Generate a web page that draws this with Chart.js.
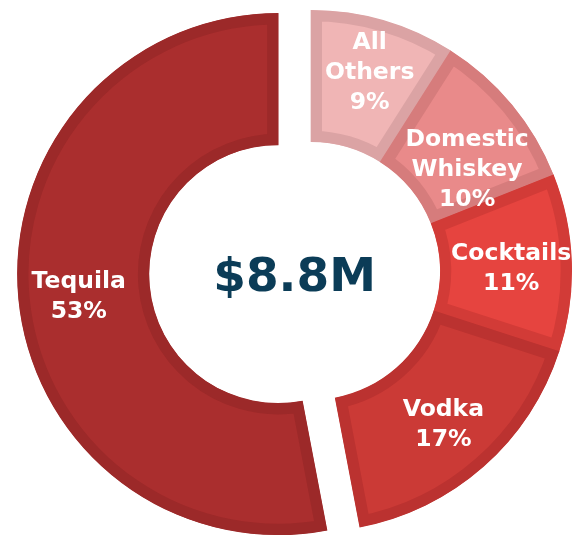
<!DOCTYPE html>
<html>
<head>
<meta charset="utf-8">
<script src="https://cdn.jsdelivr.net/npm/chart.js@4.4.0/dist/chart.umd.min.js"></script>
<style>
  html, body { margin: 0; padding: 0; background: #ffffff; }
  #wrap { width: 573px; height: 540px; position: relative; }
</style>
</head>
<body>
<div id="wrap"><canvas id="mix" width="573" height="540"></canvas></div>
<script>
// Sales mix by category (share of total, %)
const categories = ['All Others', 'Domestic Whiskey', 'Cocktails', 'Vodka', 'Tequila'];
const shares = [9, 10, 11, 17, 53];
const totalLabel = '$8.8M';

const fillColors = ['#f0b5b5', '#e98a8a', '#e6443f', '#cb3a36', '#aa2e2e'];
const edgeColors = ['#dba3a4', '#d67c7c', '#d23b37', '#bb3230', '#9c2929'];

// Tequila is pulled out of the ring
const explodedIndex = 4;
const explodeDistance = 33;

const explodeSlice = {
  id: 'explodeSlice',
  afterDatasetUpdate(chart, args) {
    const arc = chart.getDatasetMeta(args.index).data[explodedIndex];
    if (!arc) return;
    const mid = (arc.startAngle + arc.endAngle) / 2;
    arc.x += Math.cos(mid) * explodeDistance;
    arc.y += Math.sin(mid) * explodeDistance;
  }
};

// White category / percent labels inside each segment, plus the total in the hole
const sliceLabels = {
  id: 'sliceLabels',
  afterDatasetsDraw(chart, args, opts) {
    const ctx = chart.ctx;
    const arcs = chart.getDatasetMeta(0).data;
    const lineGap = opts.lineGap;
    ctx.save();
    ctx.textAlign = 'center';
    ctx.textBaseline = 'middle';
    ctx.fillStyle = '#ffffff';
    ctx.font = 'bold 23.5px "DejaVu Sans", Verdana, sans-serif';
    arcs.forEach((arc, i) => {
      const adj = opts.adjust[categories[i]] || { angle: 0, radius: 0 };
      const mid = (arc.startAngle + arc.endAngle) / 2 + adj.angle * Math.PI / 180;
      const r = arc.innerRadius + opts.depth * (arc.outerRadius - arc.innerRadius) + adj.radius;
      const cx = arc.x + Math.cos(mid) * r;
      const cy = arc.y + Math.sin(mid) * r + opts.shiftY;
      const lines = categories[i].split(' ').concat([shares[i] + '%']);
      lines.forEach((t, k) => {
        ctx.fillText(t, cx, cy + (k - (lines.length - 1) / 2) * lineGap);
      });
    });

    // total, centred between the ring and the pulled-out slice
    const ring = arcs[0];
    const pulled = arcs[explodedIndex];
    const tx = (ring.x + pulled.x) / 2;
    const ty = (ring.y + pulled.y) / 2 + 6;
    ctx.fillStyle = '#0b3c57';
    ctx.font = 'bold 47px "DejaVu Sans", Verdana, sans-serif';
    ctx.fillText(totalLabel, tx, ty);
    ctx.restore();
  }
};

new Chart(document.getElementById('mix'), {
  type: 'doughnut',
  data: {
    labels: categories,
    datasets: [{
      data: shares,
      backgroundColor: fillColors,
      borderColor: edgeColors,
      borderWidth: 11,
      borderAlign: 'inner',
      borderJoinStyle: 'miter',
      hoverOffset: 0
    }]
  },
  options: {
    responsive: false,
    devicePixelRatio: 1,
    animation: false,
    radius: 261,
    cutout: '49.4%',
    layout: { padding: { left: 49, right: 0, top: 2, bottom: 0 } },
    plugins: {
      legend: { display: false },
      tooltip: { enabled: false },
      sliceLabels: {
        depth: 0.54,
        lineGap: 30,
        shiftY: 4,
        adjust: {
          'All Others': { angle: 0, radius: 10 },
          'Domestic Whiskey': { angle: 5.6, radius: -12 }
        }
      }
    }
  },
  plugins: [explodeSlice, sliceLabels]
});
</script>
</body>
</html>
